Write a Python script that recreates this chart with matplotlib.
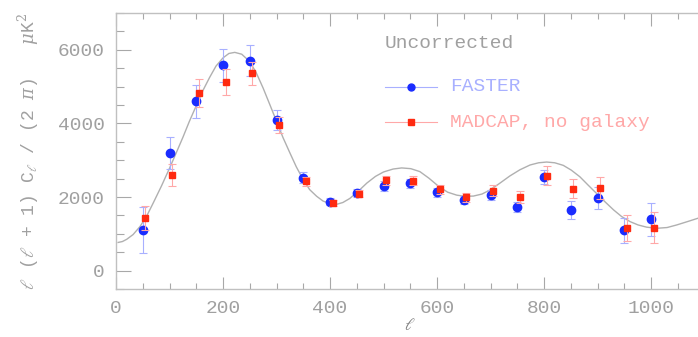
import numpy as np
import matplotlib
matplotlib.use("Agg")
import matplotlib.pyplot as plt

# FASTER (blue) band powers
faster_l = [50, 100, 150, 200, 250, 300, 350, 400, 450, 500,
            550, 600, 650, 700, 750, 800, 850, 900, 950, 1000]
faster_cl = [1100, 3190, 4600, 5580, 5700, 4100, 2520, 1870, 2110, 2300,
             2370, 2130, 1920, 2050, 1720, 2540, 1640, 1970, 1090, 1400]
faster_err = [620, 430, 450, 450, 420, 270, 150, 100, 100, 130,
              120, 120, 120, 130, 140, 200, 250, 300, 350, 450]

# MADCAP, no galaxy (red) band powers
madcap_l = [55, 105, 155, 205, 255, 305, 355, 405, 455, 505,
            555, 605, 655, 705, 755, 805, 855, 905, 955, 1005]
madcap_cl = [1430, 2600, 4820, 5130, 5360, 3950, 2430, 1830, 2090, 2450,
             2440, 2210, 1990, 2170, 2000, 2580, 2230, 2250, 1150, 1160]
madcap_err = [320, 300, 380, 360, 320, 220, 120, 80, 100, 120,
              120, 120, 120, 150, 150, 250, 250, 300, 350, 420]

# model curve
model_l = [4, 12, 20, 32, 45, 58, 70, 85, 100, 112, 125, 137, 150, 162, 175,
           187, 200, 211, 222, 235, 250, 262, 275, 287, 300, 312, 325, 337,
           350, 362, 375, 387, 400, 412, 424, 437, 453, 469, 485, 500, 518,
           534, 551, 568, 585, 603, 620, 637, 652, 668, 684, 699, 717, 736,
           755, 774, 790, 805, 820, 836, 851, 867, 882, 898, 914, 930, 945,
           961, 976, 992, 1011, 1030, 1048, 1070, 1100]
model_cl = [765, 790, 850, 980, 1200, 1500, 1850, 2300, 2780, 3180, 3620,
            4050, 4480, 4880, 5250, 5560, 5780, 5900, 5930, 5880, 5680, 5380,
            4960, 4530, 4060, 3620, 3200, 2820, 2470, 2200, 2020, 1890, 1820,
            1800, 1850, 1960, 2160, 2380, 2560, 2680, 2760, 2790, 2770, 2690,
            2510, 2290, 2130, 2050, 2020, 2025, 2080, 2190, 2370, 2570, 2740,
            2870, 2930, 2950, 2930, 2860, 2730, 2550, 2330, 2100, 1870, 1650,
            1470, 1330, 1240, 1180, 1150, 1170, 1240, 1340, 1480]

plt.rcParams["font.family"] = ["Liberation Mono", "DejaVu Sans Mono"]
plt.rcParams["mathtext.fontset"] = "dejavuserif"

fig = plt.figure(figsize=(6.98, 3.37), dpi=100)
ax = fig.add_axes([116 / 698, 1 - 289 / 337, 588.5 / 698, 276 / 337])

ax.plot(model_l, model_cl, color="#b0b0b0", lw=1.0, zorder=1)
ax.errorbar(faster_l, faster_cl, yerr=faster_err, fmt="o", color="#1a2cff",
            ms=6, ecolor="#a8b0ff", elinewidth=0.8, capsize=3, capthick=0.8, zorder=3)
ax.errorbar(madcap_l, madcap_cl, yerr=madcap_err, fmt="s", color="#ff2a10",
            ms=4.5, ecolor="#ffa8a8", elinewidth=0.8, capsize=3, capthick=0.8, zorder=4)

ax.set_xlim(0, 1100)
ax.set_ylim(-500, 7000)
ax.set_xticks([0, 200, 400, 600, 800, 1000])
ax.set_xticks(np.arange(0, 1101, 50), minor=True)
ax.set_yticks([0, 2000, 4000, 6000])
ax.set_yticks(np.arange(-500, 7001, 500), minor=True)
ax.tick_params(which="both", direction="in", top=True, right=False, colors="#a8a8a8",
               labelcolor="#a0a0a0", labelsize=14, width=0.8)
ax.tick_params(axis="x", which="major", length=9, pad=8)
ax.tick_params(axis="x", which="minor", length=4)
ax.tick_params(axis="y", which="major", length=11, pad=8)
ax.tick_params(axis="y", which="minor", length=6)
for side in ["left", "bottom", "top"]:
    ax.spines[side].set_color("#c0c0c0")
    ax.spines[side].set_linewidth(1.0)
ax.spines["right"].set_visible(False)

ax.set_ylabel(r"$\ell$ ($\ell$ + 1) C$_\ell$ / (2 $\pi$)   $\mu$K$^2$",
              color="#a0a0a0", fontsize=13, labelpad=12)
ax.set_xlabel(r"$\ell$", color="#808080", fontsize=12, labelpad=0)

# legend block
ax.text(0.457, 0.888, "Uncorrected", transform=ax.transAxes, color="#a0a0a0",
        fontsize=14, va="center", ha="left")
ax.plot([0.457, 0.546], [0.732, 0.732], transform=ax.transAxes, color="#a8b0ff", lw=0.8)
ax.plot([0.5015], [0.732], transform=ax.transAxes, marker="o", ms=5, color="#1a2cff")
ax.text(0.5675, 0.732, "FASTER", transform=ax.transAxes, color="#a8b0ff",
        fontsize=14, va="center", ha="left")
ax.plot([0.457, 0.546], [0.605, 0.605], transform=ax.transAxes, color="#ffa8a8", lw=0.8)
ax.plot([0.5015], [0.605], transform=ax.transAxes, marker="s", ms=4, color="#ff2a10")
ax.text(0.5675, 0.605, "MADCAP, no galaxy", transform=ax.transAxes, color="#ffa8a8",
        fontsize=14, va="center", ha="left")

fig.savefig("out.png", dpi=100)
